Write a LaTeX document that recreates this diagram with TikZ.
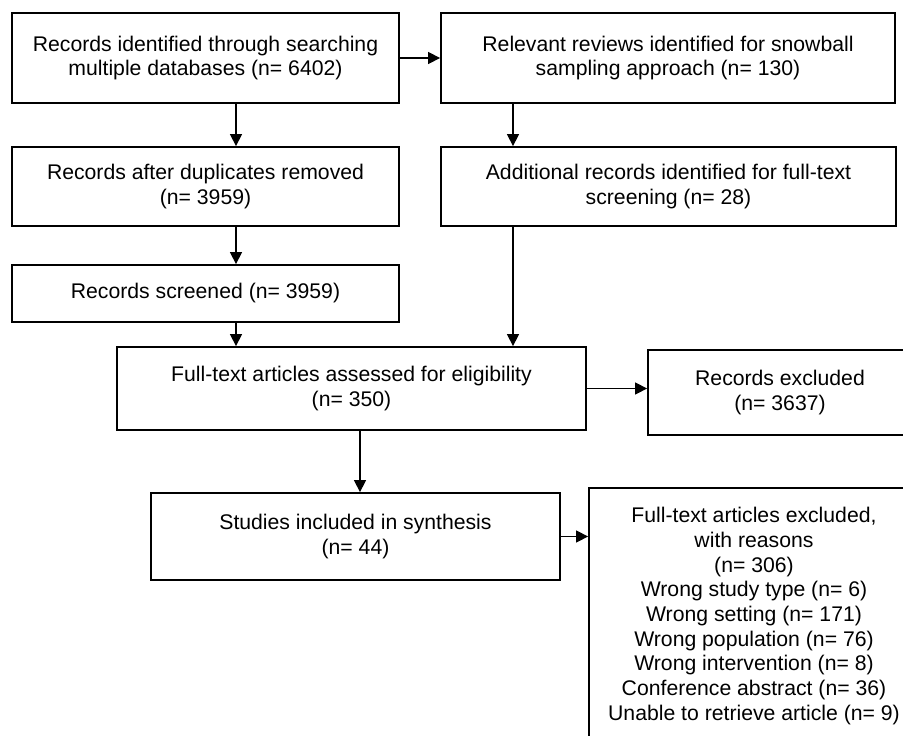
\documentclass[tikz,border=0pt]{standalone}
\usepackage{fontspec}
\setmainfont{Liberation Sans}
\usetikzlibrary{arrows.meta,positioning,calc}

\tikzset{
  prbox/.style={draw,line width=1.8pt,align=center,inner sep=0pt,
    font=\fontsize{21.2}{24.7}\selectfont},
  prarrow/.style={line width=1.4pt,-{Triangle[length=12pt,width=12pt]}}
}

\begin{document}
\begin{tikzpicture}[x=1pt,y=-1pt]

\useasboundingbox (0,0) rectangle (903,736);
\clip (0,0) rectangle (903,736);

\coordinate (colL) at (236,0);
\coordinate (colR) at (513,0);
\coordinate (colM) at (360,0);

\node[prbox,minimum width=387pt,minimum height=90pt] (ident) at (205.5,58)
  {Records identified through searching\\multiple databases (n= 6402)};
\node[prbox,minimum width=454pt,minimum height=90pt] (snow) at (668,58)
  {Relevant reviews identified for snowball\\sampling approach (n= 130)};
\node[prbox,minimum width=387pt,minimum height=79pt] (dupl) at (205.5,186.5)
  {Records after duplicates removed\\(n= 3959)};
\node[prbox,minimum width=455pt,minimum height=79pt] (addit) at (668.5,186.5)
  {Additional records identified for full-text\\screening (n= 28)};
\node[prbox,minimum width=387pt,minimum height=57pt] (screen) at (205.5,293.5)
  {Records screened (n= 3959)};
\node[prbox,minimum width=469pt,minimum height=83pt] (fulltext) at (351.5,388.5)
  {Full-text articles assessed for eligibility\\(n= 350)};
\node[prbox,minimum width=264pt,minimum height=85pt] (recexcl) at (780,392.5)
  {Records excluded\\(n= 3637)};
\node[prbox,minimum width=409pt,minimum height=87pt] (incl) at (355.5,536.5)
  {Studies included in synthesis\\(n= 44)};
\node[prbox,minimum width=330pt,minimum height=256pt] (ftexcl) at (754,616)
  {Full-text articles excluded,\\with reasons\\(n= 306)\\Wrong study type (n= 6)\\
   Wrong setting (n= 171)\\Wrong population (n= 76)\\Wrong intervention (n= 8)\\
   Conference abstract (n= 36)\\Unable to retrieve article (n= 9)};

\draw[prarrow] (ident.east) -- (snow.west);
\draw[prarrow] (ident.south -| colL) -- (dupl.north -| colL);
\draw[prarrow] (dupl.south -| colL) -- (screen.north -| colL);
\draw[prarrow] (screen.south -| colL) -- (fulltext.north -| colL);
\draw[prarrow] (snow.south -| colR) -- (addit.north -| colR);
\draw[prarrow] (addit.south -| colR) -- (fulltext.north -| colR);
\draw[prarrow] (fulltext.east) -- (fulltext.east -| recexcl.west);
\draw[prarrow] (fulltext.south -| colM) -- (incl.north -| colM);
\draw[prarrow] (incl.east) -- (incl.east -| ftexcl.west);

\end{tikzpicture}
\end{document}
